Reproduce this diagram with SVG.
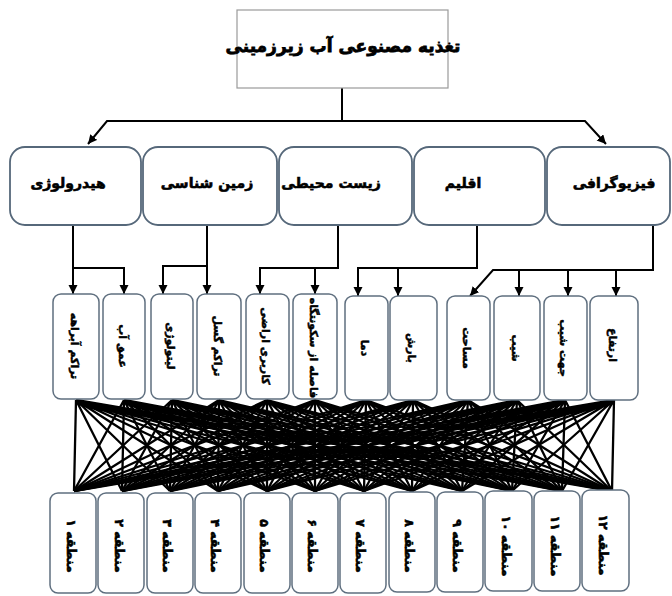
<svg xmlns="http://www.w3.org/2000/svg" width="672" height="596" viewBox="0 0 672 596">
<style>
text{font-family:"DejaVu Sans","Noto Sans",sans-serif;font-weight:bold;fill:#000;stroke:#000;stroke-width:0.6;text-anchor:middle;dominant-baseline:central}
.top{fill:#fff;stroke:#9a9a9a;stroke-width:1.2}
.cat{fill:#fff;stroke:#56687a;stroke-width:1.8}
.ind{fill:#fff;stroke:#5f6f7f;stroke-width:1.5}
.arr{fill:none;stroke:#000;stroke-width:2;marker-end:url(#ah)}
.ln{fill:none;stroke:#000;stroke-width:2}
.web{fill:none;stroke:#000;stroke-width:2.3}
.t1{font-size:17px;stroke-width:0.8}
.t2{font-size:14px}
.t3{font-size:11px;stroke-width:0.5}
.t4{font-size:12.5px}
</style>
<defs>
<marker id="ah" markerUnits="userSpaceOnUse" markerWidth="10" markerHeight="10" refX="9" refY="4.5" orient="auto">
<path d="M0,0 L9,4.5 L0,9 z" fill="#000"/>
</marker>
</defs>
<rect width="672" height="596" fill="#fff"/>

<g id="connectors">
<path class="ln" d="M342,88 V121"/>
<path class="arr" d="M342,121 H107 L88,144"/>
<path class="arr" d="M342,121 H585 L606,144"/>
<path class="arr" d="M73,225 V294"/>
<path class="arr" d="M73,268 H124 V294"/>
<path class="arr" d="M207,225 V294"/>
<path class="arr" d="M207,266 H163 V294"/>
<path class="arr" d="M338,225 V268 H260 V294"/>
<path class="arr" d="M315,268 V294"/>
<path class="arr" d="M477,225 V268 H358 V296"/>
<path class="arr" d="M398,268 V296"/>
<path class="arr" d="M653,225 V270 H493 L470,296"/>
<path class="arr" d="M519,270 V296"/>
<path class="arr" d="M568,270 V296"/>
<path class="arr" d="M616,270 V296"/>
<g id="web">
<path class="web" d="M76 400L74 491M76 400L122 491M76 400L170 491M76 400L218 491M76 400L267 491M76 400L315 491M76 400L364 491M76 400L412 491M76 400L462 491M76 400L512 491M76 400L562 491M76 400L612 491"/>
<path class="web" d="M124 400L74 491M124 400L122 491M124 400L170 491M124 400L218 491M124 400L267 491M124 400L315 491M124 400L364 491M124 400L412 491M124 400L462 491M124 400L512 491M124 400L562 491M124 400L612 491"/>
<path class="web" d="M172 400L74 491M172 400L122 491M172 400L170 491M172 400L218 491M172 400L267 491M172 400L315 491M172 400L364 491M172 400L412 491M172 400L462 491M172 400L512 491M172 400L562 491M172 400L612 491"/>
<path class="web" d="M219 400L74 491M219 400L122 491M219 400L170 491M219 400L218 491M219 400L267 491M219 400L315 491M219 400L364 491M219 400L412 491M219 400L462 491M219 400L512 491M219 400L562 491M219 400L612 491"/>
<path class="web" d="M267 400L74 491M267 400L122 491M267 400L170 491M267 400L218 491M267 400L267 491M267 400L315 491M267 400L364 491M267 400L412 491M267 400L462 491M267 400L512 491M267 400L562 491M267 400L612 491"/>
<path class="web" d="M315 400L74 491M315 400L122 491M315 400L170 491M315 400L218 491M315 400L267 491M315 400L315 491M315 400L364 491M315 400L412 491M315 400L462 491M315 400L512 491M315 400L562 491M315 400L612 491"/>
<path class="web" d="M366 400L74 491M366 400L122 491M366 400L170 491M366 400L218 491M366 400L267 491M366 400L315 491M366 400L364 491M366 400L412 491M366 400L462 491M366 400L512 491M366 400L562 491M366 400L612 491"/>
<path class="web" d="M413 400L74 491M413 400L122 491M413 400L170 491M413 400L218 491M413 400L267 491M413 400L315 491M413 400L364 491M413 400L412 491M413 400L462 491M413 400L512 491M413 400L562 491M413 400L612 491"/>
<path class="web" d="M468 400L74 491M468 400L122 491M468 400L170 491M468 400L218 491M468 400L267 491M468 400L315 491M468 400L364 491M468 400L412 491M468 400L462 491M468 400L512 491M468 400L562 491M468 400L612 491"/>
<path class="web" d="M517 400L74 491M517 400L122 491M517 400L170 491M517 400L218 491M517 400L267 491M517 400L315 491M517 400L364 491M517 400L412 491M517 400L462 491M517 400L512 491M517 400L562 491M517 400L612 491"/>
<path class="web" d="M565 400L74 491M565 400L122 491M565 400L170 491M565 400L218 491M565 400L267 491M565 400L315 491M565 400L364 491M565 400L412 491M565 400L462 491M565 400L512 491M565 400L562 491M565 400L612 491"/>
<path class="web" d="M614 400L74 491M614 400L122 491M614 400L170 491M614 400L218 491M614 400L267 491M614 400L315 491M614 400L364 491M614 400L412 491M614 400L462 491M614 400L512 491M614 400L562 491M614 400L612 491"/>
</g>
</g>

<g id="root"><rect class="top" x="237" y="10" width="211" height="78"/><text class="t1" x="343" y="46" direction="rtl">تغذیه مصنوعی آب زیرزمینی</text></g>

<g id="cat-hydrology"><rect class="cat" x="10" y="147" width="131" height="78" rx="15"/><text class="t2" x="68" y="183" direction="rtl">هیدرولوژی</text></g>
<g id="cat-geology"><rect class="cat" x="143" y="147" width="134" height="78" rx="15"/><text class="t2" x="207" y="183" direction="rtl">زمین شناسی</text></g>
<g id="cat-environment"><rect class="cat" x="279" y="147" width="133" height="78" rx="15"/><text class="t2" x="331" y="183" direction="rtl">زیست محیطی</text></g>
<g id="cat-climate"><rect class="cat" x="414" y="147" width="131" height="78" rx="15"/><text class="t2" x="463" y="183" direction="rtl">اقلیم</text></g>
<g id="cat-physiography"><rect class="cat" x="547" y="147" width="123" height="78" rx="15"/><text class="t2" x="614" y="183" direction="rtl">فیزیوگرافی</text></g>

<g id="ind-drainage"><rect class="ind" x="53" y="294" width="46" height="105" rx="8"/><text class="t3" transform="translate(74,346) rotate(90)" direction="rtl">تراکم آبراهه</text></g>
<g id="ind-waterdepth"><rect class="ind" x="103" y="294" width="42" height="105" rx="8"/><text class="t3" transform="translate(122,346) rotate(90)" direction="rtl">عمق آب</text></g>
<g id="ind-lithology"><rect class="ind" x="151" y="294" width="42" height="105" rx="8"/><text class="t3" transform="translate(170,346) rotate(90)" direction="rtl">لیتولوژی</text></g>
<g id="ind-fault"><rect class="ind" x="197" y="294" width="44" height="105" rx="8"/><text class="t3" transform="translate(217,346) rotate(90)" direction="rtl">تراکم گسل</text></g>
<g id="ind-landuse"><rect class="ind" x="246" y="294" width="43" height="105" rx="8"/><text class="t3" transform="translate(265,346) rotate(90)" direction="rtl">کاربری اراضی</text></g>
<g id="ind-settlement"><rect class="ind" x="293" y="294" width="44" height="105" rx="8"/><text class="t3" transform="translate(313,348) rotate(90)" direction="rtl">فاصله از سکونتگاه</text></g>
<g id="ind-temperature"><rect class="ind" x="345" y="296" width="43" height="104" rx="8"/><text class="t3" transform="translate(364,348) rotate(90)" direction="rtl">دما</text></g>
<g id="ind-rain"><rect class="ind" x="390" y="296" width="47" height="104" rx="8"/><text class="t3" transform="translate(411,348) rotate(90)" direction="rtl">بارش</text></g>
<g id="ind-area"><rect class="ind" x="447" y="296" width="43" height="104" rx="8"/><text class="t3" transform="translate(466,348) rotate(90)" direction="rtl">مساحت</text></g>
<g id="ind-slope"><rect class="ind" x="494" y="296" width="46" height="104" rx="8"/><text class="t3" transform="translate(515,348) rotate(90)" direction="rtl">شیب</text></g>
<g id="ind-aspect"><rect class="ind" x="544" y="296" width="43" height="104" rx="8"/><text class="t3" transform="translate(563,348) rotate(90)" direction="rtl">جهت شیب</text></g>
<g id="ind-elevation"><rect class="ind" x="590" y="296" width="48" height="104" rx="8"/><text class="t3" transform="translate(612,345) rotate(90)" direction="rtl">ارتفاع</text></g>

<g id="zone-1"><rect class="ind" x="50" y="493" width="46" height="100" rx="8"/><text class="t4" transform="translate(71,546) rotate(90)" direction="rtl">منطقه ۱</text></g>
<g id="zone-2"><rect class="ind" x="98" y="493" width="46" height="100" rx="8"/><text class="t4" transform="translate(119,546) rotate(90)" direction="rtl">منطقه ۲</text></g>
<g id="zone-3"><rect class="ind" x="147" y="493" width="46" height="100" rx="8"/><text class="t4" transform="translate(167,546) rotate(90)" direction="rtl">منطقه ۳</text></g>
<g id="zone-4"><rect class="ind" x="195" y="493" width="46" height="100" rx="8"/><text class="t4" transform="translate(215,546) rotate(90)" direction="rtl">منطقه ۴</text></g>
<g id="zone-5"><rect class="ind" x="244" y="493" width="46" height="100" rx="8"/><text class="t4" transform="translate(264,546) rotate(90)" direction="rtl">منطقه ۵</text></g>
<g id="zone-6"><rect class="ind" x="292" y="493" width="46" height="100" rx="8"/><text class="t4" transform="translate(312,546) rotate(90)" direction="rtl">منطقه ۶</text></g>
<g id="zone-7"><rect class="ind" x="340" y="493" width="46" height="100" rx="8"/><text class="t4" transform="translate(360,546) rotate(90)" direction="rtl">منطقه ۷</text></g>
<g id="zone-8"><rect class="ind" x="389" y="492" width="46" height="100" rx="8"/><text class="t4" transform="translate(409,546) rotate(90)" direction="rtl">منطقه ۸</text></g>
<g id="zone-9"><rect class="ind" x="437" y="492" width="46" height="100" rx="8"/><text class="t4" transform="translate(457,546) rotate(90)" direction="rtl">منطقه ۹</text></g>
<g id="zone-10"><rect class="ind" x="485" y="491" width="47" height="100" rx="8"/><text class="t4" transform="translate(506,546) rotate(90)" direction="rtl">منطقه ۱۰</text></g>
<g id="zone-11"><rect class="ind" x="534" y="491" width="46" height="100" rx="8"/><text class="t4" transform="translate(555,546) rotate(90)" direction="rtl">منطقه ۱۱</text></g>
<g id="zone-12"><rect class="ind" x="582" y="490" width="47" height="101" rx="8"/><text class="t4" transform="translate(603,545) rotate(90)" direction="rtl">منطقه ۱۲</text></g>
</svg>
